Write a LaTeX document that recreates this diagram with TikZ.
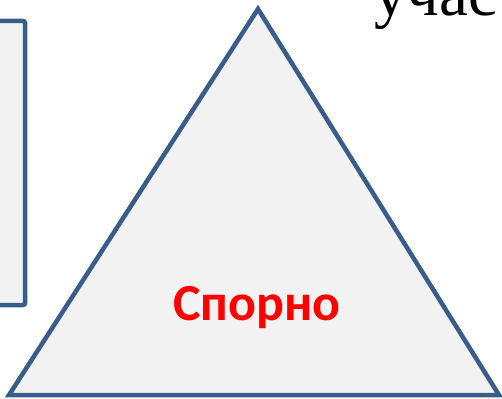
\documentclass[tikz,border=0pt]{standalone}
\usepackage{fontspec}
\setmainfont{Liberation Serif}
\newfontfamily\labelfont{Carlito}
\definecolor{frameblue}{RGB}{56, 93, 138}
\definecolor{panelgray}{RGB}{242, 242, 242}
\definecolor{alertred}{RGB}{255, 0, 0}

\begin{document}
\begin{tikzpicture}[x=1pt, y=-1pt]
\useasboundingbox (0,0) rectangle (502,398);
\clip (0,0) rectangle (502,398);

% === Panel izquierdo (cortado) ===
\draw[frameblue, line width=4.5pt, fill=panelgray, rounded corners=2pt]
    (-40,21) rectangle (25,305);

% === Triangulo ===
\coordinate (apex) at (258,9);
\coordinate (baseleft) at (9,395);
\coordinate (baseright) at (499,395);
\draw[frameblue, line width=4.5pt, fill=panelgray, line join=miter]
    (apex) -- (baseright) -- (baseleft) -- cycle;

% Etiquetas
\node[font=\labelfont\bfseries\fontsize{52}{60}\selectfont, text=alertred, anchor=base, inner sep=0pt]
    (spornolabel) at (257,320) {Спорно};
\node[font=\fontsize{65}{70}\selectfont, anchor=base west, inner sep=0pt]
    (titletext) at (374,16) {учас};

\end{tikzpicture}
\end{document}
